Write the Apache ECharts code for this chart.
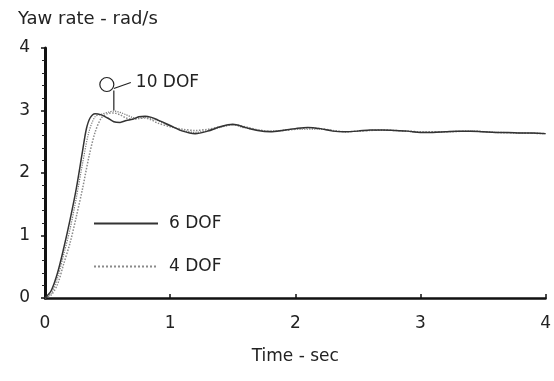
<!DOCTYPE html>
<html><head><meta charset="utf-8">
<script src="https://cdn.jsdelivr.net/npm/echarts@6/dist/echarts.min.js"></script>
<style>html,body{margin:0;padding:0;background:#fff}#c{width:554px;height:381px}</style>
</head><body><div id="c"></div>
<script>
const titleText = "Yaw rate - rad/s";
const xName = "Time - sec";
const xTicks = [0, 1, 2, 3, 4];
const yTicks = [0, 1, 2, 3, 4];
const annotationLabel = "10 DOF";
const annotationPoint = [0.55, 3.0];

const t6 = [0,0.05,0.1,0.15,0.2,0.25,0.3,0.33,0.36,0.4,0.45,0.5,0.55,0.6,0.65,0.7,0.75,0.8,0.85,0.9,1.0,1.1,1.2,1.3,1.4,1.5,1.6,1.7,1.8,1.9,2.0,2.1,2.2,2.3,2.4,2.5,2.6,2.7,2.8,2.9,3.0,3.1,3.2,3.3,3.4,3.5,3.6,3.7,3.8,3.9,4.0];
const y6 = [0,0.12,0.4,0.8,1.25,1.75,2.35,2.7,2.88,2.95,2.93,2.88,2.82,2.81,2.84,2.86,2.9,2.91,2.89,2.85,2.76,2.67,2.63,2.67,2.74,2.78,2.73,2.68,2.66,2.68,2.71,2.73,2.71,2.67,2.66,2.67,2.69,2.69,2.68,2.67,2.65,2.65,2.66,2.67,2.67,2.66,2.65,2.65,2.64,2.64,2.63];

const t4 = [0,0.05,0.1,0.15,0.2,0.25,0.3,0.35,0.4,0.45,0.5,0.55,0.6,0.65,0.7,0.75,0.8,0.85,0.9,1.0,1.1,1.2,1.3,1.4,1.5,1.6,1.7,1.8,1.9,2.0,2.1,2.2,2.3,2.4,2.5,2.6,2.7,2.8,2.9,3.0,3.2,3.4,3.6,3.8,4.0];
const y4 = [0,0.05,0.22,0.55,0.88,1.3,1.75,2.25,2.65,2.88,2.95,2.96,2.93,2.88,2.86,2.87,2.88,2.85,2.8,2.74,2.7,2.68,2.7,2.74,2.77,2.74,2.69,2.67,2.68,2.7,2.72,2.71,2.68,2.66,2.67,2.68,2.69,2.68,2.67,2.66,2.66,2.67,2.65,2.64,2.63];

const t10 = [0,0.05,0.1,0.15,0.2,0.25,0.3,0.35,0.4,0.45,0.5,0.55,0.6,0.65,0.7,0.75,0.8,0.9,1.0,1.1,1.2,1.3,1.4,1.5,1.6,1.8,2.0,2.2,2.4,2.6,2.8,3.0,3.2,3.4,3.6,3.8,4.0];
const y10 = [0,0.08,0.32,0.7,1.1,1.6,2.15,2.65,2.9,2.94,2.97,2.99,2.97,2.93,2.89,2.88,2.89,2.84,2.75,2.68,2.65,2.68,2.73,2.77,2.72,2.67,2.7,2.7,2.66,2.68,2.68,2.65,2.66,2.67,2.65,2.64,2.63];

const zip = (a, b) => a.map((v, i) => [v, b[i]]);
const FONT = "DejaVu Sans";
const chart = echarts.init(document.getElementById('c'), null, {renderer: 'canvas'});
chart.setOption({
  animation: false,
  backgroundColor: '#fff',
  title: {text: titleText, left: 13, top: 5, textStyle: {fontFamily: FONT, fontSize: 18, fontWeight: 'normal', color: '#222'}},
  grid: {left: 45, right: 3, top: 48, bottom: 83},
  legend: {
    orient: 'vertical', left: 88, top: 210, itemWidth: 64, itemHeight: 14, itemGap: 26,
    data: ['6 DOF', '4 DOF'],
    itemStyle: {color: 'rgba(0,0,0,0)', borderWidth: 0, borderColor: 'rgba(0,0,0,0)'},
    textStyle: {fontFamily: FONT, fontSize: 17, color: '#222', padding: [0, 0, 0, 6]}
  },
  xAxis: {
    type: 'value', min: 0, max: 4, interval: 1,
    name: xName, nameLocation: 'middle', nameGap: 50,
    nameTextStyle: {fontFamily: FONT, fontSize: 17, color: '#222'},
    axisLine: {lineStyle: {color: '#111', width: 2.5}},
    axisTick: {show: true, length: 4, inside: true, lineStyle: {color: '#111', width: 1.5}},
    axisLabel: {margin: 17, fontFamily: FONT, fontSize: 17, color: '#222',
      formatter: v => xTicks.includes(v) ? String(v) : ''},
    splitLine: {show: false}
  },
  yAxis: {
    type: 'value', min: 0, max: 4, interval: 1,
    axisLine: {show: true, lineStyle: {color: '#111', width: 3}},
    axisTick: {show: true, length: 4, lineStyle: {color: '#111', width: 1.5}},
    minorTick: {show: true, splitNumber: 5, length: 3, lineStyle: {color: '#222', width: 1}},
    axisLabel: {margin: 15, fontFamily: FONT, fontSize: 17, color: '#222',
      formatter: v => yTicks.includes(v) ? String(v) : ''},
    splitLine: {show: false}
  },
  series: [
    {name: '10 DOF', type: 'line', data: zip(t10, y10), symbol: 'none', smooth: 0.3,
      lineStyle: {color: '#777', width: 1.2, type: 'dotted'}},
    {name: '4 DOF', type: 'line', data: zip(t4, y4), symbol: 'none', smooth: 0.3,
      lineStyle: {color: '#8a8a8a', width: 1.5, type: 'dotted'}},
    {name: '6 DOF', type: 'line', data: zip(t6, y6), symbol: 'none', smooth: 0.3,
      lineStyle: {color: '#333', width: 1.5}}
  ]
});

// annotation callout anchored to the data point
const p = chart.convertToPixel({gridIndex: 0}, annotationPoint);
const sx = p[0], sy = p[1];
chart.setOption({
  graphic: [
    {type: 'line', shape: {x1: sx, y1: sy, x2: sx, y2: sy - 20}, style: {stroke: '#222', lineWidth: 1.2}},
    {type: 'circle', shape: {cx: sx - 7, cy: sy - 26, r: 7}, style: {stroke: '#222', fill: 'none', lineWidth: 1.2}},
    {type: 'line', shape: {x1: sx, y1: sy - 22, x2: sx + 17, y2: sy - 28}, style: {stroke: '#222', lineWidth: 1.2}},
    {type: 'text', x: sx + 22, y: sy - 28, style: {text: annotationLabel, font: '17px "DejaVu Sans"', fill: '#222', verticalAlign: 'middle'}}
  ]
});
</script></body></html>
